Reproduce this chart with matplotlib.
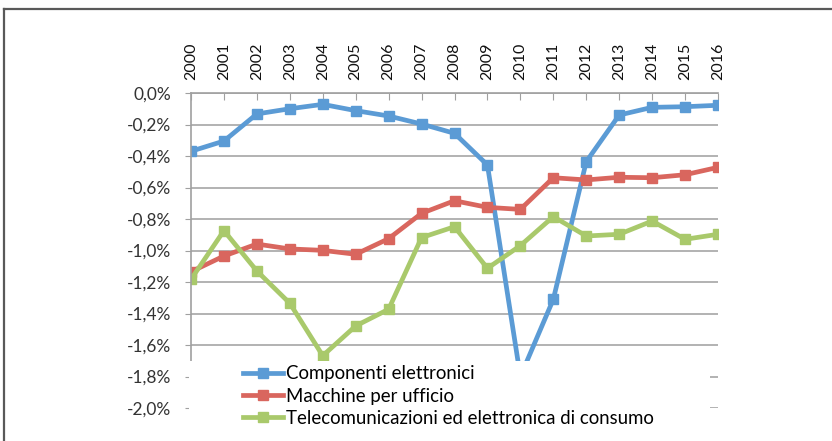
import matplotlib.pyplot as plt
from matplotlib.lines import Line2D
from matplotlib.patches import Rectangle
from matplotlib.ticker import FuncFormatter

plt.rcParams['font.family'] = ['Lato', 'DejaVu Sans']

# dati
years = list(range(2000, 2017))
componenti = [-0.37, -0.305, -0.133, -0.10, -0.072, -0.112, -0.146, -0.197, -0.256, -0.457,
              -1.80, -1.31, -0.436, -0.14, -0.091, -0.087, -0.078]
macchine = [-1.135, -1.035, -0.959, -0.99, -0.999, -1.024, -0.925, -0.764, -0.684, -0.726,
            -0.739, -0.538, -0.552, -0.535, -0.538, -0.519, -0.472]
telecom = [-1.183, -0.874, -1.13, -1.335, -1.668, -1.479, -1.373, -0.918, -0.849, -1.113,
           -0.969, -0.785, -0.908, -0.897, -0.813, -0.929, -0.897]
series_names = ["Componenti elettronici", "Macchine per ufficio",
                "Telecomunicazioni ed elettronica di consumo"]
colors = ["#5B9BD5", "#D9665E", "#A9C96B"]

W, H = 832, 441
fig = plt.figure(figsize=(W / 100, H / 100), dpi=100)
ax = fig.add_axes([191 / W, 1 - 408 / H, (718 - 191) / W, (408 - 93) / H])

for vals, name, c in zip([componenti, macchine, telecom], series_names, colors):
    ax.plot(years, vals, color=c, lw=3.4, marker='s', ms=7.5, label=name,
            solid_joinstyle='round')

ax.set_xlim(2000, 2016)
ax.set_ylim(-2.0, 0.0)
ax.set_yticks([-2.0 + 0.2 * i for i in range(11)])
ax.yaxis.set_major_formatter(FuncFormatter(lambda v, p: f"{v:.1f}%".replace('.', ',')))
ax.set_xticks(years)
ax.set_xticklabels([str(y) for y in years], rotation=90, fontsize=11.5)
ax.xaxis.tick_top()
ax.tick_params(axis='x', direction='in', length=5, color='#a0a0a0', pad=9,
               labelcolor='#111111')
ax.tick_params(axis='y', direction='out', length=4, color='#a0a0a0', pad=10,
               labelsize=12.5, labelcolor='#333333')
ax.grid(axis='y', color='#a6a6a6', lw=1.2)
ax.set_axisbelow(True)
for s in ['right', 'bottom']:
    ax.spines[s].set_visible(False)
ax.spines['top'].set_color('#a0a0a0')
ax.spines['left'].set_color('#a0a0a0')
ax.spines['top'].set_linewidth(1.2)
ax.spines['left'].set_linewidth(1.2)

# area legenda bianca sopra il grafico
fig.patches.append(Rectangle((189 / W, 0), (710 - 189) / W, 1 - 361 / H,
                             transform=fig.transFigure, facecolor='white',
                             edgecolor='none', zorder=5))
leg = fig.legend(loc='upper left', bbox_to_anchor=(236 / W, 1 - 358 / H),
                 frameon=False, fontsize=13.4, handlelength=2.15, handletextpad=0.15,
                 labelspacing=0.28, borderaxespad=0)
leg.set_zorder(6)

# cornice
fig.add_artist(Line2D([4 / W, 1], [1 - 9 / H, 1 - 9 / H], color='#595959', lw=1.6))
fig.add_artist(Line2D([4 / W, 4 / W], [0, 1 - 9 / H], color='#595959', lw=1.6))

fig.savefig("out.png", dpi=100)
